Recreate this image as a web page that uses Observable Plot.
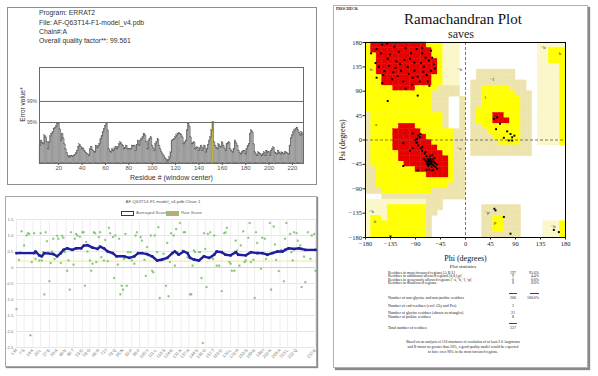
<!DOCTYPE html>
<html><head><meta charset="utf-8">
<script src="https://cdn.jsdelivr.net/npm/d3@7"></script>
<script src="https://cdn.jsdelivr.net/npm/@observablehq/plot@0.6"></script>
<style>
body{margin:0;background:#fff;}
#root{position:relative;width:598px;height:376px;overflow:hidden;background:#fff;}
.panel{position:absolute;box-sizing:border-box;background:#fff;}
</style></head><body><div id="root"></div>
<script>
// ---------------- ERRAT2 data ----------------
const errInfo = ["Program: ERRAT2", "File: AF-Q63T14-F1-model_v4.pdb", "Chain#:A", "Overall quality factor**: 99.561"];
const errStart = 4;
const errValues = [
 5.0,6.4,5.8,5.4,7.8,7.3,6.0,4.0,5.9,7.6,
 8.3,8.7,9.7,9.9,10.3,11.1,11.3,9.5,6.4,8.3,
 7.0,5.4,4.0,3.0,2.2,1.7,2.0,2.2,2.0,2.2,
 2.4,2.8,3.6,4.6,5.3,4.7,4.0,4.2,3.6,3.1,
 2.8,2.6,2.2,4.0,4.7,3.8,3.4,3.1,5.0,4.3,
 4.8,5.4,6.8,7.6,8.7,9.7,10.5,11.3,9.2,4.0,
 3.4,3.1,4.0,3.6,4.2,4.7,4.0,4.6,5.4,5.9,
 5.3,5.0,4.0,4.4,5.0,4.0,4.1,4.0,4.0,5.0,
 4.8,5.0,3.6,5.2,6.4,5.0,6.4,6.8,7.3,8.3,
 7.8,6.0,4.0,6.4,6.9,7.3,5.0,4.2,3.6,5.4,
 6.0,6.8,5.0,4.0,3.2,2.6,2.2,1.5,1.2,0.6,
 1.0,1.7,3.1,6.4,6.6,6.8,7.3,7.8,8.3,8.5,
 8.3,8.0,7.3,5.4,5.9,6.4,9.2,11.1,10.3,7.3,
 5.4,5.6,5.9,4.0,4.3,4.5,3.6,4.2,5.0,3.6,
 4.3,5.0,3.1,4.0,5.2,6.4,7.3,9.2,11.6,6.0,
 5.0,4.4,4.0,5.4,4.8,4.5,5.9,5.0,4.2,3.6,
 5.4,5.6,5.9,4.0,3.5,3.1,4.0,6.4,5.6,5.0,
 3.6,3.0,2.6,3.1,3.4,3.6,2.6,4.0,4.8,5.4,
 8.3,9.2,8.7,5.4,3.1,2.6,2.2,3.1,2.8,2.6,
 2.2,2.6,3.1,2.2,3.6,3.1,3.3,2.2,3.6,4.0,
 4.5,3.1,2.8,2.6,3.6,3.0,2.6,3.1,2.8,2.6,
 3.1,3.1,2.8,2.6,5.0,7.0,7.8,8.7,9.2,9.6,
 10.0,9.2,8.5,7.8,8.7,8.0
];
const errLimits = [11.36, 17.19];
const errLimitLabels = ["95%", "99%"];
const errTicks = [20, 40, 60, 80, 100, 120, 140, 160, 180, 200, 220];

// ---------------- Verify3D data ----------------
const v3dTitle = "AF-Q63T14-F1-model_v4.pdb Chain 1";
const v3dThreshold = 0.2;
const v3dYTicks = [-2.5, -2.0, -1.5, -1.0, -0.5, 0, 0.5, 1.0, 1.5];
const v3dXTicks = [1,7,14,20,27,33,40,46,53,59,66,72,79,85,92,98,105,111,118,124,131,137,144,150,157,163,170,176,183,189,196,202,209,215,222,237];
const v3dXLabels = ["1:M","7:S","14:K","20:L","27:E","33:A","40:V","46:T","53:D","59:G","66:R","72:I","79:Q","85:N","92:P","98:F","105:Y","111:L","118:S","124:E","131:K","137:A","144:V","150:G","157:T","163:D","170:L","176:R","183:S","189:E","196:I","202:K","209:A","215:L","222:Q","237:E"];
const avgScore = [[1,0.45],[15,0.45],[16,0.5],[19,0.38],[21,0.35],[23,0.45],[30,0.42],[33,0.35],[36,0.45],[38,0.55],[41,0.6],[45,0.55],[48,0.6],[52,0.6],[54,0.68],[57,0.7],[61,0.62],[65,0.58],[67,0.65],[70,0.6],[73,0.5],[77,0.45],[80,0.35],[86,0.35],[90,0.3],[94,0.35],[97,0.45],[100,0.45],[104,0.42],[108,0.35],[112,0.22],[116,0.25],[120,0.3],[124,0.45],[126,0.5],[129,0.4],[133,0.5],[136,0.45],[138,0.3],[141,0.25],[145,0.22],[149,0.35],[153,0.3],[157,0.4],[159,0.5],[163,0.48],[166,0.4],[170,0.38],[174,0.48],[176,0.4],[182,0.38],[186,0.48],[191,0.45],[195,0.45],[199,0.4],[203,0.45],[207,0.5],[211,0.5],[213,0.55],[216,0.6],[220,0.58],[224,0.6],[226,0.58],[229,0.55],[237,0.55]];
const rawScore = [[1,-1.3],[3,0.24],[4,0.48],[5,1.13],[7,0.69],[9,1.0],[10,1.07],[11,1.05],[12,-2.12],[13,0.17],[15,1.07],[16,0.27],[17,0.47],[19,0.22],[20,1.07],[21,0.22],[22,0.48],[23,-0.84],[24,1.1],[25,0.82],[26,0.48],[27,-0.43],[28,0.14],[29,0.5],[30,0.9],[31,0.27],[33,0.99],[34,0.9],[36,0.14],[37,0.99],[38,0.93],[39,0.48],[41,-0.1],[42,0.22],[43,-0.69],[44,1.1],[46,0.09],[47,0.9],[48,1.05],[49,1.0],[51,0.96],[53,1.1],[54,1.1],[55,-0.57],[56,0.8],[57,0.5],[59,0.22],[60,-0.1],[61,0.12],[62,1.1],[63,1.07],[64,0.17],[66,0.95],[67,1.1],[68,0.32],[70,0.22],[71,0.86],[73,0.2],[74,1.24],[75,1.07],[77,0.95],[78,-0.33],[79,1.0],[81,0.09],[82,0.9],[83,-0.84],[84,-0.57],[85,-0.69],[86,0.27],[87,1.05],[88,-0.57],[89,0.48],[91,0.48],[92,0.22],[94,0.12],[95,1.0],[96,1.1],[98,0.43],[99,0.95],[100,0.84],[102,0.24],[103,-0.26],[104,0.64],[105,0.38],[107,1.0],[108,-0.1],[109,-0.15],[110,1.0],[112,0.48],[113,1.26],[114,-0.95],[115,0.22],[117,0.43],[118,0.27],[119,-0.57],[120,0.77],[121,-0.9],[122,0.17],[123,1.07],[125,1.0],[126,0.06],[127,1.2],[128,0.48],[130,1.39],[132,0.53],[133,1.1],[134,1.1],[136,0.32],[138,-0.84],[139,-0.84],[140,0.06],[141,0.53],[142,0.48],[144,0.22],[145,0.48],[146,0.48],[147,-0.33],[148,-2.36],[149,1.07],[150,0.58],[151,-0.61],[152,1.05],[154,1.1],[155,0.32],[156,0.27],[157,1.0],[159,0.06],[161,0.06],[162,0.48],[163,-0.74],[165,1.07],[166,1.1],[167,1.24],[169,0.17],[170,0.12],[171,-0.1],[173,-0.1],[174,0.84],[175,0.53],[177,0.06],[178,0.69],[180,1.13],[181,0.17],[182,0.22],[184,0.93],[185,1.39],[186,0.17],[188,0.24],[189,-0.95],[190,1.1],[191,0.77],[192,0.48],[194,-0.04],[195,0.93],[197,0.9],[198,0.27],[199,0.38],[201,1.39],[202,-0.69],[204,1.28],[205,0.72],[206,0.24],[208,-0.11],[209,0.48],[210,0.55],[212,-0.43],[213,0.9],[214,1.39],[215,0.61],[217,1.05],[218,0.48],[219,0.22],[220,1.1],[222,1.07],[223,0.84],[225,0.69],[226,-0.61],[228,0.34],[229,-0.46],[231,1.1],[233,0.27],[234,1.0],[236,1.05],[237,-0.1]];

// ---------------- Ramachandran data ----------------
// 10-degree grid, rows psi 180 -> -180, columns phi -180 -> 180
// R most favoured, Y additional allowed, g / c generously allowed, W disallowed
const ramaRegions = [
 "YRRRRRRRRRRYYYcccWWWWWWWWWWWWWWccccc",
 "YRRRRRRRRRRRYYcccWWWWWWWWWWWWWWccYYY",
 "YYRRRRRRRRRRYYcccWWWWWWWWWWWWWWccYYY",
 "YYRRRRRRRRRRRYcccWWWWWWWWWWWWWWccYYY",
 "YYRRRRRRRRRRRYcccWWWWWWWWWWWWWWccccY",
 "YYRRRRRRRRRRRYcccWWWgggggggWWWWccccY",
 "YYYRRRRRRRRRYYcccWWWgggggggWWWWccccY",
 "YYYRRRRRRRRRYYcccWWggggggggggWWccccY",
 "YYYYYRRRRYYYYggggWWggYYYYYgggWWccccY",
 "YYYYYYYYYYYYgggggWWggYYYYYYgggWccccY",
 "YYYYYYYYYYYYgggWWgWggYYYYYYYggWccccY",
 "YYYYYYYYYYYYgggWWgWggYYYYYYYggWccccY",
 "YYYYYYYYYYYYgggWWgWgYYYYYYYYggWccccY",
 "gYYYYYYYYYYYYYgWWgWgYYYRRYYYggWccccY",
 "gYYYYYYYYYYYYYgWWgWgYYYRRRYYggWccccY",
 "gYYYYYRRRYYYYYgWWgWggYYYYYYYggWccccY",
 "gYYYYRRRRRYYYYYYggWgggYYYYYYggWccccY",
 "gYYYYRRRRRRYYYYYggWggggYYYYYggWccccY",
 "gYYYYRRRRRRRYYYYggWgggggYYYYggWccccY",
 "gYYYYRRRRRRRRYYYggWgggggggggggWWWWWW",
 "gYYYYYRRRRRRRRYYggWgggggggggggWWWWWW",
 "gYYYYYRRRRRRRRRYggWWWWWWWWWWWWWWWWWW",
 "gYYYYYYRRRRRRRRYggWWWWWWWWWWWWWWWWWW",
 "ggYYYYYYYRRRRRRYggWWWWWWWWWWWWWWWWWW",
 "ggYYYYYYYYYRRRRYggWWWWWWWWWWWWWWWWWW",
 "ggYYYYYYYYYYYYYYggWWWWWWWWWWWWWWWWWW",
 "ggYYYYYYYYYYYYYgggWWWWWWWWWWWWWWWWWW",
 "gggYYYYYYYYYggggggWWWWWWWWWWWWWWWWWW",
 "WWWgggggggggggggggWWWWWWWWWWWWWWWWWW",
 "cccccccccccgggWWWWWWWWWWWWWWWWWWWWWW",
 "ccccYYYYYYYgggWWWWWWWgggggggWWWWWWWW",
 "ccccYYYYYYYggWWWWWWWWgggggggWWWWWWWW",
 "cYYcYYYYYYYgWWWWWWWWWggYYgggWWWWWWWW",
 "cYYYYYYYYYYgWWWWWWWWWggYYgggWWWWcccY",
 "cYYYYYYYYYYgWWWWWWWWWggYYgggWWWWcccY",
 "cYYYYYYYYYYgWWWWWWWWWgggggggWWWWcccY"
];
const regionColors = {R: "#e60000", Y: "#ffff00", g: "#ede4ad", c: "#fbf7c9"};
const regionLabels = [
 [-167,166,"B"],[-172,130,"b"],[-15,131,"~b"],[-163,28,"a"],[-114,13,"A"],[-16,-15,"~a"],
 [44,111,"~l"],[34,78,"l"],[51,43,"L"],[135,171,"~b"],[168,160,"b"],[34,-133,"~p"],
 [51,-153,"p"],[-174,-131,"~b"],[-165,-151,"b"],[153,-160,"~b"]
];
const ramaPoints = [
 [-150,176],[-141,178],[-128,172],[-160,168],[-152,160],[-136,158],[-120,163],[-108,170],[-98,160],[-88,168],
 [-78,160],[-72,152],[-66,147],[-60,152],[-57,140],[-80,142],[-92,143],[-104,135],[-116,128],[-126,133],
 [-138,137],[-146,127],[-122,118],[-102,122],[-92,128],[-86,117],[-76,126],[-70,120],[-62,128],[-55,132],
 [-68,108],[-82,108],[-112,108],[-132,112],[-148,120],[-162,142],[-170,160],[-96,102],[-65,100],[-140,72],
 [-86,82],[-110,148],[-100,150],[-124,145],[-75,135],[-62,165],[-140,150],[-156,135],[-118,140],[-95,115],
 [-130,125],[-108,95],[-150,105],[-160,115],[-78,170],
 [-70,-40],[-65,-38],[-62,-42],[-60,-45],[-58,-40],[-66,-45],[-68,-35],[-72,-38],[-63,-35],[-57,-47],
 [-61,-50],[-55,-42],[-64,-30],[-70,-30],[-75,-35],[-67,-48],[-59,-36],[-62,-39],[-66,-41],[-69,-44],
 [-54,-50],[-60,-28],[-73,-25],[-78,-20],[-80,-15],[-85,-10],[-88,-5],[-90,0],[-82,5],[-95,-15],
 [-100,-20],[-65,-55],[-70,-55],[-58,-55],[-52,-45],[-56,-33],[-63,-45],[-67,-38],[-95,12],[-85,8],
 [-81,11],[-87,2],[-78,-13],[-72,-22],[-112,-6],[-112,-48],[-86,-56],[-60,-56],[-51,-53],
 [51,39],[57,42],[55,20],[75,16],[81,11],[84,5],[69,4],[78,-1],[84,-1],[62,30],[88,8],
 [52,-127],[54,-130],[69,-142],[81,-173],[159,-166],[168,-170],[-135,-178]
];
const ramaTicks = [-180, -135, -90, -45, 0, 45, 90, 135, 180];
const statsRows = [
 ["Residues in most favoured regions [A,B,L]", "197", "95.6%"],
 ["Residues in additional allowed regions [a,b,l,p]", "9", "4.4%"],
 ["Residues in generously allowed regions [~a,~b,~l,~p]", "0", "0.0%"],
 ["Residues in disallowed regions", "0", "0.0%"],
 ["Number of non-glycine and non-proline residues", "206", "100.0%"],
 ["Number of end-residues (excl. Gly and Pro)", "2", ""],
 ["Number of glycine residues (shown as triangles)", "21", ""],
 ["Number of proline residues", "8", ""],
 ["Total number of residues", "237", ""]
];
const footnote = [
 "Based on an analysis of 118 structures of resolution of at least 2.0 Angstroms",
 "and R-factor no greater than 20%, a good quality model would be expected",
 "to have over 90% in the most favoured regions."
];

// ---------------- helpers ----------------
const root = document.getElementById("root");
const SANS = "'Liberation Sans', Arial, sans-serif";
const SERIF = "'Liberation Serif', 'Times New Roman', serif";
function panel(x, y, w, h, css) {
  const d = document.createElement("div");
  d.className = "panel";
  d.style.cssText += `left:${x}px;top:${y}px;width:${w}px;height:${h}px;${css}`;
  root.appendChild(d);
}
function place(node, x, y) {
  node.style.position = "absolute";
  node.style.left = x + "px";
  node.style.top = y + "px";
  root.appendChild(node);
}
function label(text, x, y, {size = 6, family = SANS, color = "#333", anchor = "start", weight = "normal"} = {}) {
  const d = document.createElement("div");
  d.textContent = text;
  const tx = anchor === "middle" ? "-50%" : anchor === "end" ? "-100%" : "0";
  d.style.cssText = `position:absolute;left:${x}px;top:${y}px;transform:translate(${tx},-50%);font-size:${size}px;font-family:${family};color:${color};font-weight:${weight};white-space:nowrap;line-height:1;`;
  root.appendChild(d);
}
function box(x, y, w, h, css) {
  const d = document.createElement("div");
  d.style.cssText = `position:absolute;left:${x}px;top:${y}px;width:${w}px;height:${h}px;box-sizing:border-box;${css}`;
  root.appendChild(d);
}

// panels
panel(7, 7, 310, 178, "border:1px solid #8e8e8e;");
panel(5, 196, 312, 171, "border:1px solid #a8a8a8;box-shadow:1px 1px 1px #8a8a8a;");
panel(333, 5, 255, 363, "border:1px solid #b0b0b0;box-shadow:2px 2px 1px #8a8a8a;");

// ---------------- ERRAT plot ----------------
const errData = errValues.map((v, i) => ({res: errStart + i, v}));
const errPlot = Plot.plot({
  width: 305, height: 135,
  marginLeft: 32, marginRight: 9, marginTop: 17, marginBottom: 22,
  x: {domain: [3.5, 229.5]},
  y: {domain: [0, 26.6]},
  color: {type: "identity"},
  style: {fontFamily: SANS, fontSize: "6px", color: "#555", background: "transparent", overflow: "visible"},
  marks: [
    Plot.rect(errData, {x1: d => d.res - 0.5, x2: d => d.res + 0.5, y1: 0, y2: "v",
      fill: d => d.v > errLimits[0] ? "#c8bd3a" : "#a3a3a3", stroke: "#777", strokeWidth: 0.2}),
    Plot.line(errData, {x: "res", y: "v", curve: "step", stroke: "#4a4a4a", strokeWidth: 0.6}),
    Plot.ruleY(errLimits, {stroke: "#6a6a6a", strokeWidth: 1}),
    Plot.frame({stroke: "#6a6a6a"}),
    Plot.axisX({ticks: errTicks, tickSize: 2, tickPadding: 0.5, label: null}),
    Plot.axisY({ticks: errLimits, tickFormat: d => errLimitLabels[errLimits.indexOf(d)], tickSize: 0, tickPadding: 2.5, fontSize: 5, label: null}),
    Plot.text(["Residue # (window center)"], {frameAnchor: "bottom", lineAnchor: "middle", dy: 14, fontSize: 7, fill: "#333"}),
    Plot.text(["Error value*"], {frameAnchor: "left", textAnchor: "middle", lineAnchor: "middle", rotate: -90, dx: -17, dy: -11, fontSize: 6.5, fill: "#333"})
  ]
});
place(errPlot, 7, 50);
errInfo.forEach((t, i) => label(t, 39, 13.3 + i * 9.35, {size: 6.8, color: "#333"}));

// ---------------- Verify3D plot ----------------
const v3dLabelMap = new Map(v3dXTicks.map((t, i) => [t, v3dXLabels[i]]));
const v3dPlot = Plot.plot({
  width: 312, height: 152,
  marginLeft: 11, marginRight: 2, marginTop: 4, marginBottom: 20,
  x: {domain: [1, 237]},
  y: {domain: [-2.5, 1.5]},
  style: {fontFamily: SANS, fontSize: "4.3px", color: "#777", background: "transparent", overflow: "visible"},
  marks: [
    Plot.gridY(v3dYTicks, {stroke: "#e6e6e6", strokeOpacity: 1}),
    Plot.gridX(v3dXTicks, {stroke: "#eeeeee", strokeOpacity: 1}),
    Plot.ruleY([0], {stroke: "#d2d2d2"}),
    Plot.ruleY([v3dThreshold], {stroke: "#f3efa2", strokeWidth: 1.4}),
    Plot.dot(rawScore, {x: d => d[0], y: d => d[1], symbol: "square", r: 0.9, fill: "#86d076", stroke: "#5fae50", strokeWidth: 0.3}),
    Plot.line(avgScore, {x: d => d[0], y: d => d[1], stroke: "#1f1f9c", strokeWidth: 2.4}),
    Plot.dot(avgScore, {x: d => d[0], y: d => d[1], symbol: "square", r: 1.4, fill: "#1f1f9c"}),
    Plot.axisY({ticks: v3dYTicks, tickFormat: d => d === 0 ? "0" : d.toFixed(1), tickSize: 0, tickPadding: 3, label: null}),
    Plot.axisX({ticks: v3dXTicks, tickFormat: d => v3dLabelMap.get(d), tickSize: 0, tickPadding: 2, tickRotate: -45, label: null})
  ]
});
place(v3dPlot, 5, 215);
label(v3dTitle, 163, 201.7, {size: 4.4, color: "#555", anchor: "middle"});
box(121, 211, 12.5, 4.5, "border:1.3px solid #2a2aa8;background:#fff;");
label("Averaged Score", 136, 213.3, {size: 4.3, color: "#666"});
box(166, 211, 12.5, 4.5, "border:0.8px solid #8cc57a;background:#b9ac7c;");
label("Raw Score", 181, 213.3, {size: 4.3, color: "#666"});

// ---------------- Ramachandran plot ----------------
const ramaCells = ramaRegions.flatMap((row, r) => [...row].map((k, c) => ({phi: -180 + 10 * c, psi: 180 - 10 * r, k}))).filter(d => d.k !== "W");
const ramaPlot = Plot.plot({
  width: 240, height: 227,
  marginLeft: 32, marginRight: 8, marginTop: 7, marginBottom: 25,
  x: {domain: [-180, 180]},
  y: {domain: [-180, 180]},
  color: {type: "identity"},
  style: {fontFamily: SERIF, fontSize: "6.5px", color: "#222", background: "transparent", overflow: "visible"},
  marks: [
    Plot.rect(ramaCells, {x1: "phi", x2: d => d.phi + 10, y1: d => d.psi - 10, y2: "psi",
      fill: d => regionColors[d.k], stroke: d => regionColors[d.k], strokeWidth: 0.4}),
    Plot.ruleX([0], {stroke: "#555", strokeDasharray: "3,2", strokeWidth: 0.8}),
    Plot.ruleY([0], {stroke: "#555", strokeDasharray: "3,2", strokeWidth: 0.8}),
    Plot.text(regionLabels, {x: d => d[0], y: d => d[1], text: d => d[2], fontSize: 5, fill: "#333", textAnchor: "start"}),
    Plot.dot(ramaPoints, {x: d => d[0], y: d => d[1], symbol: "square", r: 1.1, fill: "#000"}),
    Plot.frame({stroke: "#000"}),
    Plot.axisX({ticks: ramaTicks, tickSize: 2.5, tickPadding: 1, label: null}),
    Plot.axisY({ticks: ramaTicks, tickSize: 2.5, tickPadding: 1, label: null}),
    Plot.text(["Phi (degrees)"], {frameAnchor: "bottom", lineAnchor: "middle", dy: 21, fontSize: 8, fill: "#111"}),
    Plot.text(["Psi (degrees)"], {frameAnchor: "left", textAnchor: "middle", lineAnchor: "middle", rotate: -90, dx: -23, fontSize: 8, fill: "#111"})
  ]
});
place(ramaPlot, 333, 35);
label("PROCHECK", 336, 9.5, {size: 3.8, family: SERIF, color: "#222", weight: "bold"});
label("Ramachandran Plot", 463, 19.3, {size: 15, family: SERIF, color: "#111", anchor: "middle"});
label("saves", 461, 34.3, {size: 12, family: SERIF, color: "#222", anchor: "middle"});
label("Plot statistics", 463, 265.5, {size: 5, family: SERIF, color: "#222", anchor: "middle"});
const rowY = [274, 277.4, 280.8, 284.2, 299, 306.7, 314, 317.7, 329];
statsRows.forEach((r, i) => {
  label(r[0], 388, rowY[i], {size: 3.9, family: SERIF, color: "#222"});
  label(r[1], 513, rowY[i], {size: 3.9, family: SERIF, color: "#222", anchor: "middle"});
  if (r[2]) label(r[2], 539, rowY[i], {size: 3.9, family: SERIF, color: "#222", anchor: "end"});
});
box(509, 292.5, 8, 0.6, "background:#444;");
box(530, 292.5, 9, 0.6, "background:#444;");
box(509, 323.2, 8, 0.6, "background:#444;");
footnote.forEach((t, i) => label(t, 463, 343.3 + i * 5, {size: 3.7, family: SERIF, color: "#222", anchor: "middle"}));
</script></body></html>
